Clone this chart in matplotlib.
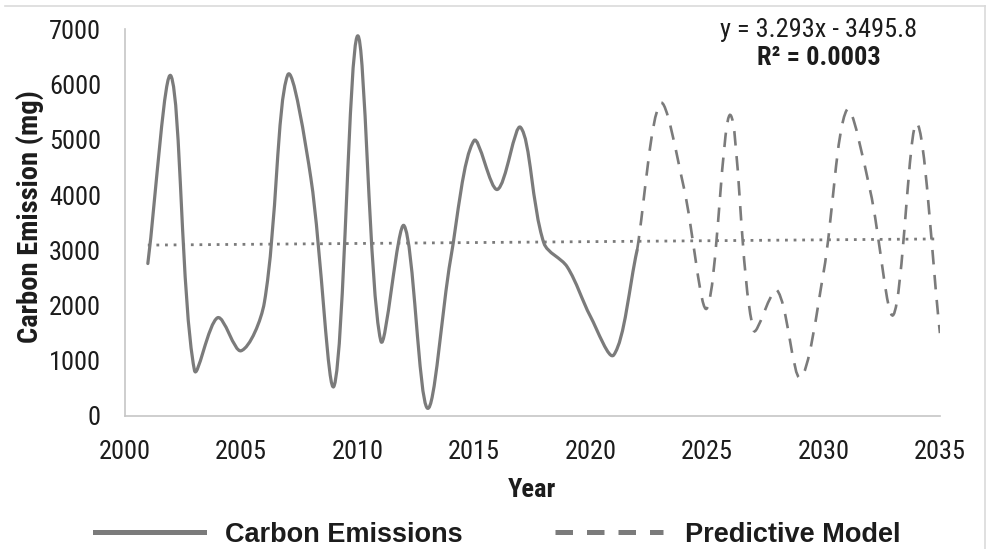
import matplotlib
matplotlib.use("Agg")
import matplotlib.pyplot as plt
from matplotlib import font_manager as fm
from matplotlib.path import Path
from matplotlib.patches import PathPatch
from matplotlib.lines import Line2D
import numpy as np

avail = {f.name for f in fm.fontManager.ttflist}
NARROW = next((f for f in ["Liberation Sans Narrow", "Arial Narrow", "Roboto Condensed",
                           "DejaVu Sans Condensed"] if f in avail), None)
BASE = "Liberation Sans"
FAM = NARROW or BASE
SZ = 19 if NARROW else 16          # narrow faces can run larger in the same width
GREY = "#7b7b7b"; AXC = "#c6c6c6"; INK = "#1c1c1c"

# observed emissions 2001-2022
years_obs = list(range(2001, 2023))
emis_obs = [2760, 6150, 830, 1780, 1180, 2050, 6170, 4300, 550, 6880, 1360,
            3445, 140, 2850, 4985, 4100, 5225, 3130, 2700, 1800, 1105, 3000]
# model projection 2022-2035
years_pred = list(range(2022, 2036))
emis_pred = [3000, 5660, 4150, 1950, 5450, 1555, 2280, 690, 2590, 5540,
             4090, 1830, 5300, 1500]
# linear trend over the whole record
slope, intercept = 3.293, -3495.8
trend_x = [2001, 2035]

W, H = 9.86, 5.49
AX = [0.1263, 0.2423, 0.8270, 0.7043]
XL, YL = (2000, 2035), (0, 7000)
# pixels per data unit, so control points are placed in screen proportions
SX = AX[2] * W * 100 / (XL[1] - XL[0])
SY = AX[3] * H * 100 / (YL[1] - YL[0])

def smooth_path(xs, ys):
    # bezier spline, tangent length scaled by neighbouring segment lengths
    pts = np.column_stack([np.asarray(xs, float) * SX, np.asarray(ys, float) * SY])
    n = len(pts)
    verts = [pts[0]]; codes = [Path.MOVETO]
    def tangent(i):
        a = pts[max(i - 1, 0)]; b = pts[min(i + 1, n - 1)]
        lp = np.hypot(*(pts[i] - a)); ln = np.hypot(*(b - pts[i]))
        tot = lp + ln if lp + ln else 1.0
        return (b - a), lp / tot, ln / tot
    for i in range(n - 1):
        d1, _, fn = tangent(i)
        d2, fp, _ = tangent(i + 1)
        c1 = pts[i] + d1 * fn / 3
        c2 = pts[i + 1] - d2 * fp / 3
        verts += [c1, c2, pts[i + 1]]
        codes += [Path.CURVE4] * 3
    verts = np.array(verts) / [SX, SY]
    return Path(verts, codes)

fig = plt.figure(figsize=(W, H), dpi=100)
ax = fig.add_axes(AX)
ax.set_xlim(*XL); ax.set_ylim(*YL)

ax.add_patch(PathPatch(smooth_path(years_obs, emis_obs), fc="none", ec=GREY,
                       lw=2.3, capstyle="round", joinstyle="round"))
ax.add_patch(PathPatch(smooth_path(years_pred, emis_pred), fc="none", ec=GREY,
                       lw=1.9, linestyle=(0, (5.5, 4)), capstyle="butt"))
tx = np.array(trend_x)
ax.plot(tx, slope * tx + intercept, color=GREY, lw=2.0, linestyle=(0, (1, 2.1)))

for s in ["top", "right"]:
    ax.spines[s].set_visible(False)
for s in ["left", "bottom"]:
    ax.spines[s].set_color(AXC); ax.spines[s].set_linewidth(1.2)
ax.set_xticks(range(2000, 2036, 5)); ax.set_yticks(range(0, 7001, 1000))
ax.tick_params(length=0, labelsize=SZ, colors=INK)
ax.tick_params(axis="y", pad=17)
ax.tick_params(axis="x", pad=17)
for lab in ax.get_xticklabels() + ax.get_yticklabels():
    lab.set_family(FAM)
ax.set_xlabel("Year", fontsize=SZ, fontweight="bold", family=FAM, color=INK)
ax.set_ylabel("Carbon Emission (mg)", fontsize=SZ + 1.5, fontweight="bold", family=FAM,
              color=INK)
ax.xaxis.set_label_coords(0.5, -0.160)
ax.yaxis.set_label_coords(-0.099, 0.515)

fig.text(0.830, 0.946, "y = 3.293x - 3495.8", ha="center", va="center",
         fontsize=SZ, family=FAM, color=INK)
fig.text(0.830, 0.894, "R² = 0.0003", ha="center", va="center",
         fontsize=SZ, family=FAM, fontweight="bold", color=INK)

handles = [Line2D([], [], color=GREY, lw=3.6),
           Line2D([], [], color=GREY, lw=3.6, linestyle=(0, (3.5, 2.8)))]
leg = fig.legend(handles, ["Carbon Emissions", "Predictive Model"], loc="center",
                 bbox_to_anchor=(0.505, 0.026), ncol=2, frameon=False,
                 handlelength=4.0, handletextpad=0.8, columnspacing=3.4,
                 prop={"family": BASE, "weight": "bold", "size": 19.5})
for t in leg.get_texts():
    t.set_color(INK)

# chart border, partly cropped
fig.add_artist(Line2D([5 / 986, 985 / 986], [1 - 6 / 549, 1 - 6 / 549],
                      transform=fig.transFigure, color="#dadada", lw=1.2))
fig.add_artist(Line2D([985 / 986, 985 / 986], [1 - 6 / 549, 0],
                      transform=fig.transFigure, color="#dadada", lw=1.2))

fig.savefig("out.png", dpi=100)
